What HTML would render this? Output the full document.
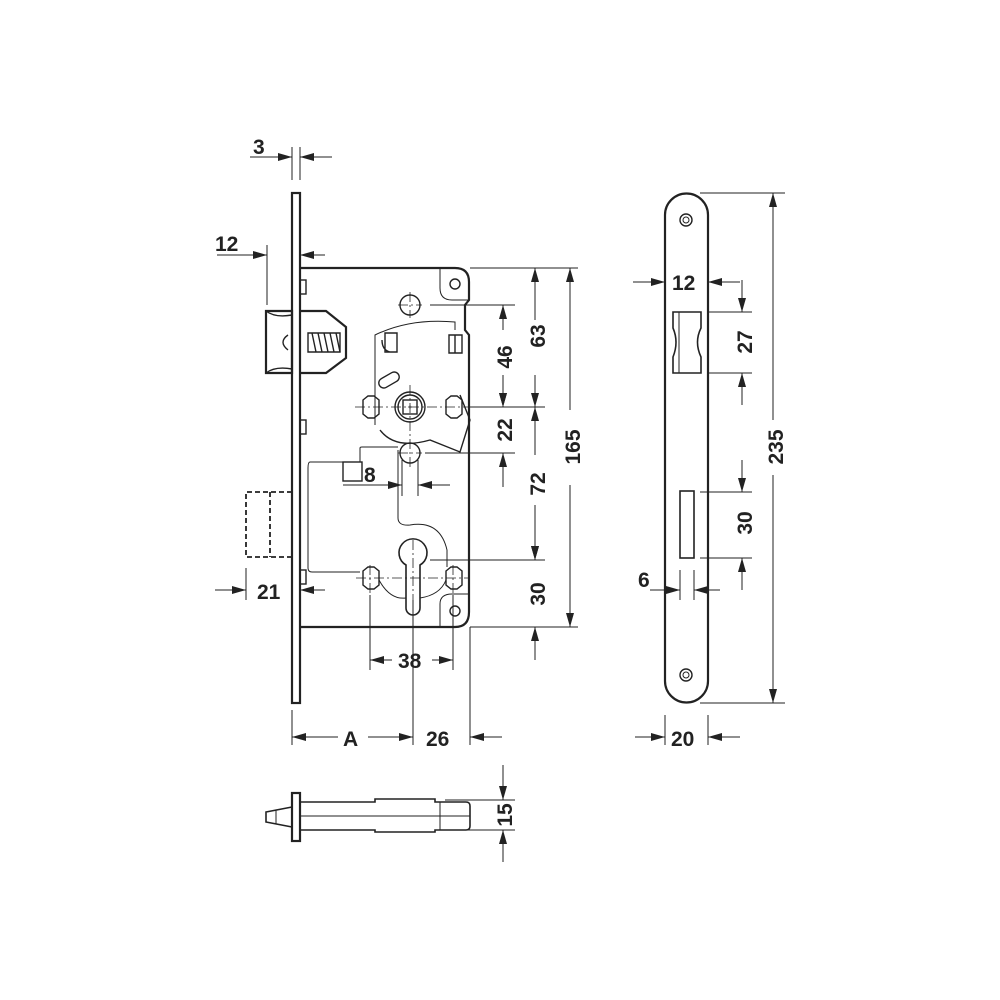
<!DOCTYPE html>
<html><head><style>html,body{margin:0;padding:0;background:#fff}svg{display:block}</style></head><body>
<svg width="1000" height="1000" viewBox="0 0 1000 1000" xmlns="http://www.w3.org/2000/svg" font-family="Liberation Sans, sans-serif" font-weight="bold">
<defs>
<marker id="a" viewBox="0 0 14 8" refX="14" refY="4" markerWidth="14" markerHeight="8" markerUnits="userSpaceOnUse" orient="auto"><path d="M0,0 L14,4 L0,8 z" fill="#222"/></marker>
</defs>
<g stroke="#222" fill="none" stroke-width="1.4">
<rect x="292" y="193" width="8" height="510" stroke-width="2.2"/>
<path d="M300 268 H455 Q469 268 469 282 V300 L465 305 V330 L469 335 V612 Q469 627 455 627 H300" stroke-width="2.2"/>
<path d="M440 268 V288 Q440 300 452 300 H469" stroke-width="1"/>
<path d="M440 627 V604 Q440 594 452 594 H469" stroke-width="1"/>
<circle cx="455" cy="284" r="5"/>
<circle cx="455" cy="611" r="5"/>
<rect x="300" y="280" width="6" height="14"/><rect x="300" y="420" width="6" height="14"/><rect x="300" y="570" width="6" height="14"/>
<path d="M266 311 H292 V373 H266 Z" stroke-width="2.2"/>
<path d="M266 311 Q275 318 292 315 M266 373 Q275 366 292 369"/>
<path d="M300 311 H326 L346 327 V358 L326 373 H300" stroke-width="2.2"/>
<path d="M308 333 H340 V352 H308 Z"/>
<path d="M312 333 L316 352 M318 333 L322 352 M324 333 L328 352 M330 333 L334 352 M336 333 L340 352"/>
<path d="M288 335 Q278 342 288 350"/>
<path d="M292 492 H246 V557 H292 M270 492 V557" stroke-dasharray="5,3" stroke-width="1.8"/>
<path d="M375 425 V335 Q410 318 455 322 V330" stroke-width="1"/>
<path d="M455 335 V353 M449 335 H462 V353 H449 Z"/>
<path d="M385 333 H397 V352 H385 Z M382 340 Q382 350 390 352"/>
<rect x="378" y="375" width="22" height="10" rx="5" transform="rotate(-30 389 380)"/>
<path d="M380 430 Q395 450 430 440 L460 452 L470 420 L460 395"/>
<circle cx="410" cy="407" r="15"/><circle cx="410" cy="407" r="12"/>
<rect x="403" y="400" width="14" height="14"/>
<path d="M410 405 V409 M408 407 H412" stroke-width="0.8"/>
<path d="M363 400 L368 396 H374 L379 400 V414 L374 418 H368 L363 414 Z"/>
<path d="M446 400 L451 396 H457 L462 400 V414 L457 418 H451 L446 414 Z"/>
<circle cx="410" cy="305" r="10"/>
<circle cx="410" cy="453" r="10"/>
<path d="M363 571 L368 567 H374 L379 571 V585 L374 589 H368 L363 585 Z"/>
<path d="M446 571 L451 567 H457 L462 571 V585 L457 589 H451 L446 585 Z"/>
<path d="M406 565 A14 14 0 1 1 420 565 V608 A7 7 0 0 1 406 608 Z" stroke-width="1.6"/>
<path d="M398 450 V518 Q398 526 410 525 Q440 520 447 550 V567" stroke-width="1"/>
<path d="M379 580 Q390 600 406 598 M420 598 Q440 595 446 580" stroke-width="1"/>
<path d="M360 462 H310 Q308 462 308 468 V568 Q308 572 312 572 H360" stroke-width="1"/>
<path d="M360 462 V448 Q360 447 362 447 H398" stroke-width="1"/>
<rect x="343" y="462" width="19" height="19"/>
<g stroke-width="0.8" stroke-dasharray="10,3,2,3">
<path d="M355 407 H470 M410 385 V470 M398 305 H422 M410 292 V318 M398 453 H422 M356 578 H470 M370 565 V595 M453 565 V595 M413 540 V620"/>
</g>
</g>
<g stroke="#222" stroke-width="1" fill="none">
<path d="M292 147 V180 M300 147 V180"/>
<path d="M250 157 H292" marker-end="url(#a)"/><path d="M332 157 H300" marker-end="url(#a)"/>
<path d="M267 245 V305"/>
<path d="M217 255 H267" marker-end="url(#a)"/><path d="M325 255 H300" marker-end="url(#a)"/>
<path d="M246 568 V600"/>
<path d="M215 590 H246" marker-end="url(#a)"/><path d="M325 590 H300" marker-end="url(#a)"/>
<path d="M343 485 H402" marker-end="url(#a)"/><path d="M450 485 H418" marker-end="url(#a)"/>
<path d="M402 460 V496 M418 460 V496"/>
<path d="M370 595 V670 M453 595 V670 M413 600 V745 M470 627 V745 M292 710 V745"/>
<path d="M392 660 H370" marker-end="url(#a)"/><path d="M432 660 H453" marker-end="url(#a)"/>
<path d="M338 737 H292" marker-end="url(#a)"/><path d="M368 737 H413" marker-end="url(#a)"/>
<path d="M502 737 H470" marker-end="url(#a)"/>
<path d="M470 268 H578 M430 305 H515 M470 407 H545 M425 453 H515 M430 560 H545 M470 627 H578"/>
<path d="M535 320 V268" marker-end="url(#a)"/><path d="M535 375 V407" marker-end="url(#a)"/>
<path d="M503 330 V305" marker-end="url(#a)"/><path d="M503 375 V407" marker-end="url(#a)"/>
<path d="M503 395 V407" marker-end="url(#a)"/><path d="M503 487 V453" marker-end="url(#a)"/>
<path d="M535 455 V407" marker-end="url(#a)"/><path d="M535 505 V560" marker-end="url(#a)"/>
<path d="M535 660 V627" marker-end="url(#a)"/><path d="M535 530 V560" marker-end="url(#a)"/>
<path d="M570 410 V268" marker-end="url(#a)"/><path d="M570 485 V627" marker-end="url(#a)"/>
<path d="M445 800 H515 M445 830 H515"/>
<path d="M503 765 V800" marker-end="url(#a)"/><path d="M503 862 V830" marker-end="url(#a)"/>
<path d="M665 270 V295 M708 270 V295"/>
<path d="M633 282 H665" marker-end="url(#a)"/><path d="M740 282 H708" marker-end="url(#a)"/>
<path d="M708 312 H752 M708 373 H752 M700 492 H752 M700 558 H752 M700 193 H785 M700 703 H785"/>
<path d="M742 280 V312" marker-end="url(#a)"/><path d="M742 405 V373" marker-end="url(#a)"/>
<path d="M742 460 V492" marker-end="url(#a)"/><path d="M742 590 V558" marker-end="url(#a)"/>
<path d="M773 420 V193" marker-end="url(#a)"/><path d="M773 475 V703" marker-end="url(#a)"/>
<path d="M680 570 V600 M694 570 V600"/>
<path d="M650 590 H680" marker-end="url(#a)"/><path d="M720 590 H694" marker-end="url(#a)"/>
<path d="M665 715 V745 M708 715 V745"/>
<path d="M635 737 H665" marker-end="url(#a)"/><path d="M740 737 H708" marker-end="url(#a)"/>
</g>
<g stroke="#222" fill="none" stroke-width="2.2">
<path d="M665 215 A21.5 21.5 0 0 1 708 215 V681 A21.5 21.5 0 0 1 665 681 Z"/>
<circle cx="686" cy="220" r="6" stroke-width="1.4"/><circle cx="686" cy="220" r="3" stroke-width="1"/>
<circle cx="686" cy="675" r="6" stroke-width="1.4"/><circle cx="686" cy="675" r="3" stroke-width="1"/>
<path d="M673 312 H701 V328 Q694 342 701 357 V373 H673 V357 Q679 342 673 328 Z" stroke-width="1.6"/>
<path d="M679 312 V373" stroke-width="1"/>
<rect x="680" y="491" width="14" height="67" stroke-width="1.6"/>
</g>
<g stroke="#222" fill="none" stroke-width="1.6">
<rect x="292" y="793" width="8" height="48" stroke-width="2.2"/>
<path d="M292 807 L266 812 V822 L292 827"/>
<path d="M300 802 H375 V799 H435 V802 H466 Q470 802 470 806 V826 Q470 830 466 830 H435 V832 H375 V830 H300"/>
<path d="M300 816 H470 M440 802 V830 M276 810 V824" stroke-width="1"/>
</g>
<g fill="#222" font-size="21">
<text x="253" y="154">3</text>
<text x="215" y="251">12</text>
<text x="257" y="599">21</text>
<text x="364" y="482">8</text>
<text x="398" y="668">38</text>
<text x="343" y="746">A</text>
<text x="426" y="746">26</text>
<text x="672" y="290">12</text>
<text x="638" y="587">6</text>
<text x="671" y="746">20</text>
<text transform="translate(512,357) rotate(-90)" text-anchor="middle">46</text>
<text transform="translate(545,336) rotate(-90)" text-anchor="middle">63</text>
<text transform="translate(512,430) rotate(-90)" text-anchor="middle">22</text>
<text transform="translate(545,484) rotate(-90)" text-anchor="middle">72</text>
<text transform="translate(545,594) rotate(-90)" text-anchor="middle">30</text>
<text transform="translate(580,447) rotate(-90)" text-anchor="middle">165</text>
<text transform="translate(512,815) rotate(-90)" text-anchor="middle">15</text>
<text transform="translate(752,342) rotate(-90)" text-anchor="middle">27</text>
<text transform="translate(752,523) rotate(-90)" text-anchor="middle">30</text>
<text transform="translate(783,447) rotate(-90)" text-anchor="middle">235</text>
</g>
</svg>
</body></html>
